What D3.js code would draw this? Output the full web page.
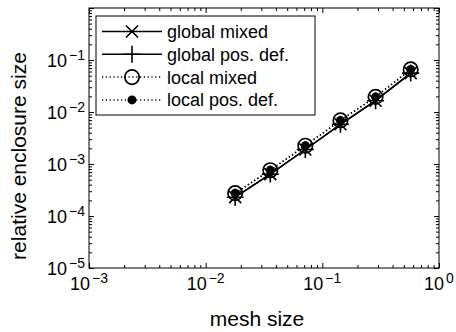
<!DOCTYPE html>
<html>
<head>
<meta charset="utf-8">
<script src="https://cdnjs.cloudflare.com/ajax/libs/d3/7.8.5/d3.min.js"></script>
<style>
body { margin: 0; background: #fff; }
svg { display: block; font-family: "Liberation Sans", Arial, sans-serif; }
</style>
</head>
<body>
<div id="chart"></div>
<script>
var mesh_size = [0.0179, 0.0358, 0.0715, 0.143, 0.286, 0.572];
var global_mixed = [2.3e-4, 6.4e-4, 1.9e-3, 5.8e-3, 1.65e-2, 5.6e-2];
var global_posdef = [2.3e-4, 6.4e-4, 1.9e-3, 5.8e-3, 1.65e-2, 5.6e-2];
var local_mixed = [2.75e-4, 7.6e-4, 2.25e-3, 6.9e-3, 1.95e-2, 6.6e-2];
var local_posdef = [2.75e-4, 7.6e-4, 2.25e-3, 6.9e-3, 1.95e-2, 6.6e-2];
var x_ticks = [-3, -2, -1, 0];
var y_ticks = [-5, -4, -3, -2, -1];
var legend_labels = ["global mixed", "global pos. def.", "local mixed", "local pos. def."];

var width = 456, height = 332;
var box = {left: 89, right: 439, top: 8, bottom: 268};

var svg = d3.select("#chart").append("svg")
    .attr("width", width)
    .attr("height", height);

var x = d3.scaleLog().domain([1e-3, 1]).range([box.left, box.right]);
var y = d3.scaleLog().domain([1e-5, 1]).range([box.bottom, box.top]);

// minor ticks 2..9 in every decade
function minor_ticks(lo, hi) {
    var out = [];
    for (var e = lo; e < hi; e++) {
        for (var k = 2; k <= 9; k++) out.push(k * Math.pow(10, e));
    }
    return out;
}

function draw_axis(axis_fn, scale, values, size, tx, ty) {
    svg.append("g")
        .attr("transform", "translate(" + tx + "," + ty + ")")
        .call(axis_fn(scale).tickValues(values).tickSize(size).tickFormat(""))
        .call(function(g) {
            g.select(".domain").remove();
            g.selectAll("line").attr("stroke", "#000").attr("stroke-width", 1);
        });
}

var xmaj = x_ticks.map(function(e) { return Math.pow(10, e); });
var ymaj = y_ticks.concat([0]).map(function(e) { return Math.pow(10, e); });
var xmin = minor_ticks(-3, 0), ymin = minor_ticks(-5, 0);

// ticks point inward on all four sides
draw_axis(d3.axisBottom, x, xmaj, -5, 0, box.bottom);
draw_axis(d3.axisBottom, x, xmin, -3, 0, box.bottom);
draw_axis(d3.axisTop, x, xmaj, -5, 0, box.top);
draw_axis(d3.axisTop, x, xmin, -3, 0, box.top);
draw_axis(d3.axisLeft, y, ymaj, -5, box.left, 0);
draw_axis(d3.axisLeft, y, ymin, -3, box.left, 0);
draw_axis(d3.axisRight, y, ymaj, -5, box.right, 0);
draw_axis(d3.axisRight, y, ymin, -3, box.right, 0);

svg.append("rect")
    .attr("x", box.left).attr("y", box.top)
    .attr("width", box.right - box.left).attr("height", box.bottom - box.top)
    .attr("fill", "none").attr("stroke", "#000").attr("stroke-width", 1);

// tick labels as 10 with superscript exponent
function power_label(sel, e) {
    sel.append("tspan").text("10");
    sel.append("tspan").attr("font-size", 14).attr("dx", 2).attr("dy", -7)
        .text(String(e).replace("-", "\u2212"));
}

x_ticks.forEach(function(e) {
    svg.append("text")
        .attr("x", x(Math.pow(10, e)))
        .attr("y", 290)
        .attr("text-anchor", "middle")
        .attr("font-size", 18)
        .call(power_label, e);
});

y_ticks.forEach(function(e) {
    svg.append("text")
        .attr("x", 85)
        .attr("y", y(Math.pow(10, e)) + 7)
        .attr("text-anchor", "end")
        .attr("font-size", 18)
        .call(power_label, e);
});

svg.append("text")
    .attr("x", 257).attr("y", 326)
    .attr("text-anchor", "middle")
    .attr("font-size", 21)
    .text("mesh size");

svg.append("text")
    .attr("transform", "translate(26,156) rotate(-90)")
    .attr("text-anchor", "middle")
    .attr("font-size", 21)
    .text("relative enclosure size");

// marker shapes
function marker(g, kind, cx, cy) {
    if (kind === "x") {
        var s = 6;
        g.append("path")
            .attr("d", "M" + (cx - s) + "," + (cy - s) + "L" + (cx + s) + "," + (cy + s) +
                       "M" + (cx - s) + "," + (cy + s) + "L" + (cx + s) + "," + (cy - s))
            .attr("stroke", "#000").attr("stroke-width", 1.6).attr("fill", "none");
    } else if (kind === "+") {
        var p = 8.5;
        g.append("path")
            .attr("d", "M" + (cx - p) + "," + cy + "L" + (cx + p) + "," + cy +
                       "M" + cx + "," + (cy - p) + "L" + cx + "," + (cy + p))
            .attr("stroke", "#000").attr("stroke-width", 1.6).attr("fill", "none");
    } else if (kind === "o") {
        g.append("circle").attr("cx", cx).attr("cy", cy).attr("r", 7.2)
            .attr("stroke", "#000").attr("stroke-width", 1.7).attr("fill", "none");
    } else {
        g.append("circle").attr("cx", cx).attr("cy", cy).attr("r", 4.5)
            .attr("fill", "#000");
    }
}

var series = [
    {values: global_mixed, kind: "x", dash: null},
    {values: global_posdef, kind: "+", dash: null},
    {values: local_mixed, kind: "o", dash: "1.2,2.6"},
    {values: local_posdef, kind: ".", dash: "1.2,2.6"}
];

var line = d3.line()
    .x(function(d) { return x(d[0]); })
    .y(function(d) { return y(d[1]); });

series.forEach(function(s) {
    var pts = mesh_size.map(function(m, i) { return [m, s.values[i]]; });
    svg.append("path")
        .attr("d", line(pts))
        .attr("fill", "none")
        .attr("stroke", "#000")
        .attr("stroke-width", 1.5)
        .attr("stroke-dasharray", s.dash);
    var g = svg.append("g");
    pts.forEach(function(p) { marker(g, s.kind, x(p[0]), y(p[1])); });
});

// legend
var lg = {left: 96, top: 16, right: 315, bottom: 115};
svg.append("rect")
    .attr("x", lg.left).attr("y", lg.top)
    .attr("width", lg.right - lg.left).attr("height", lg.bottom - lg.top)
    .attr("fill", "#fff").attr("stroke", "#000").attr("stroke-width", 1);

series.forEach(function(s, i) {
    var ry = 31.5 + i * 22.8;
    svg.append("line")
        .attr("x1", 102).attr("x2", 162).attr("y1", ry).attr("y2", ry)
        .attr("stroke", "#000").attr("stroke-width", 1.5)
        .attr("stroke-dasharray", s.dash);
    marker(svg, s.kind, 132, ry);
    svg.append("text")
        .attr("x", 167).attr("y", ry + 6.5)
        .attr("font-size", 18)
        .text(legend_labels[i]);
});
</script>
</body>
</html>
